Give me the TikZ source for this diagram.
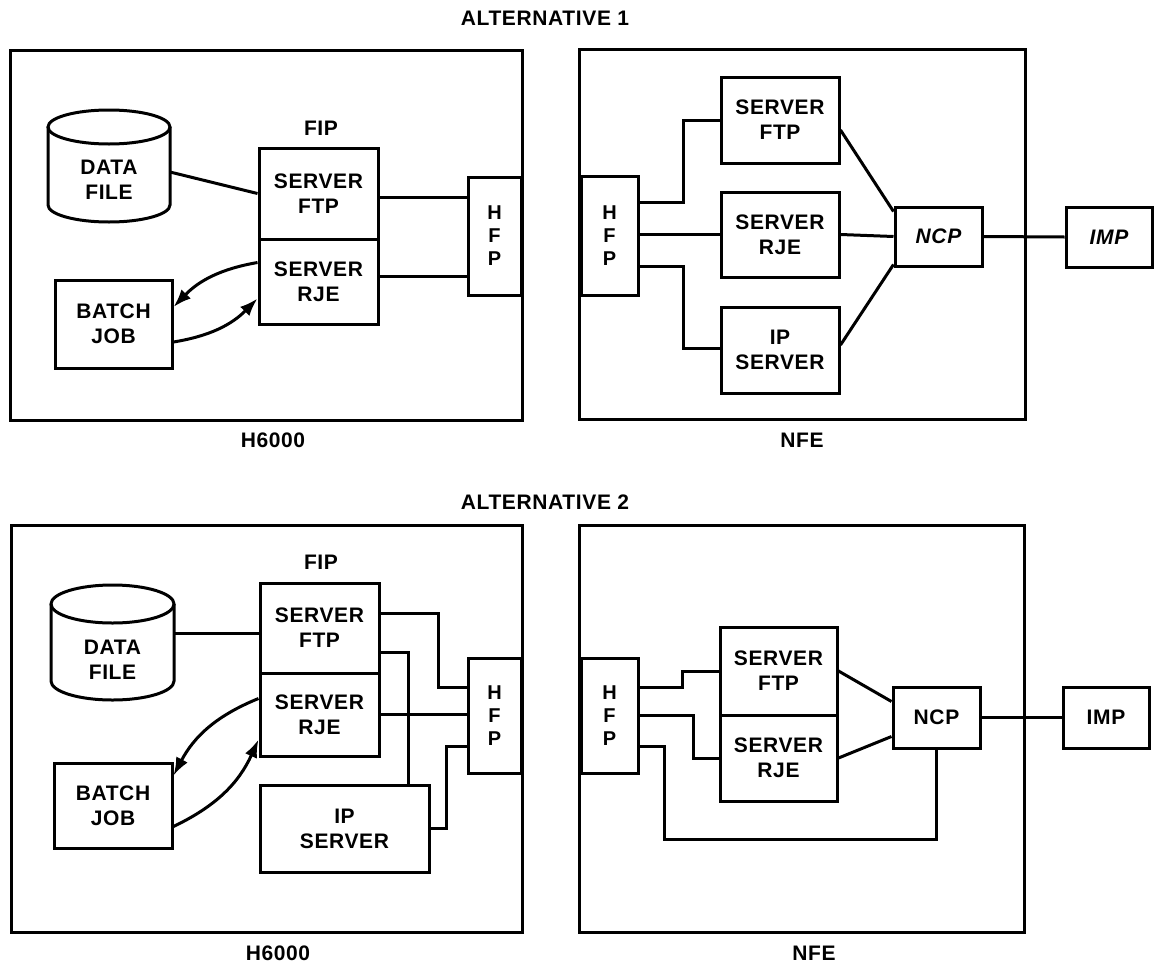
\documentclass[tikz,border=0pt]{standalone}
\usepackage{fontspec}
\setmainfont{Liberation Sans}[LetterSpace=3]
\usepackage{tikz}
\usetikzlibrary{arrows.meta}

\tikzset{
  box/.style={draw, line width=3pt, align=center, inner sep=0pt},
  lbl/.style={align=center, inner sep=0pt},
  hfp/.style={box, font=\fontsize{20}{23}\selectfont\bfseries},
  wire/.style={line width=3pt},
  arr/.style={line width=3pt, -{Latex[length=18pt,width=13pt]}},
}

\begin{document}
\begin{tikzpicture}[x=1pt, y=-1pt, font=\fontsize{21}{25}\selectfont\bfseries]
  \useasboundingbox (0,0) rectangle (1176,964);

  % alternative 1
  \node[lbl] (titleA) at (545,18) {ALTERNATIVE 1};
  \node[box, minimum width=512pt, minimum height=370pt] (hostA) at (266,235) {};
  \node[box, minimum width=446pt, minimum height=370pt] (nfeA) at (802,234) {};
  \node[lbl] (hostlblA) at (273,440) {H6000};
  \node[lbl] (nfelblA) at (802,440) {NFE};
  \node[lbl] (fipA) at (321,128) {FIP};

  \node[inner sep=0pt, outer sep=0pt, minimum width=122pt, minimum height=112pt] (dfileA) at (109,166) {};
  \draw[wire] ([yshift=-17pt]dfileA.north) ellipse [x radius=61pt, y radius=17pt];
  \draw[wire] ([yshift=-17pt]dfileA.north west) -- ([yshift=17pt]dfileA.south west)
    arc[start angle=180, end angle=360, x radius=61pt, y radius=17pt] -- ([yshift=-17pt]dfileA.north east);
  \node[lbl] (dtextA) at (109,180) {DATA\\FILE};

  \node[box, minimum width=119pt, minimum height=91pt] (ftpA) at (318.5,193.5) {SERVER\\FTP};
  \node[box, minimum width=119pt, minimum height=85pt] (rjeA) at (318.5,281.5) {SERVER\\RJE};
  \node[box, minimum width=117pt, minimum height=88pt] (batchA) at (113.5,324) {BATCH\\JOB};
  \node[hfp, minimum width=53pt, minimum height=118pt] (hfpA) at (494.5,236) {H\\F\\P};

  \node[hfp, minimum width=57pt, minimum height=119pt] (hfpB) at (609.5,235.5) {H\\F\\P};
  \node[box, minimum width=118pt, minimum height=86pt] (ftpB) at (780,120) {SERVER\\FTP};
  \node[box, minimum width=118pt, minimum height=85pt] (rjeB) at (780,234.5) {SERVER\\RJE};
  \node[box, minimum width=118pt, minimum height=86pt] (ipB) at (780,350) {IP\\SERVER};
  \node[box, minimum width=87pt, minimum height=59pt, font=\fontsize{21}{25}\selectfont\bfseries\itshape] (ncpB) at (938.5,236.5) {NCP};
  \node[box, minimum width=86pt, minimum height=60pt, font=\fontsize{21}{25}\selectfont\bfseries\itshape] (impB) at (1109,237) {IMP};

  \draw[wire] ([yshift=-6pt]dfileA.east) -- (ftpA.west);
  \draw[wire] ([yshift=-4pt]ftpA.east) -- ([yshift=-4pt]ftpA.east -| hfpA.west);
  \draw[wire] ([yshift=5pt]rjeA.east) -- ([yshift=5pt]rjeA.east -| hfpA.west);
  \draw[arr] ([yshift=19pt]rjeA.west) to[bend right=18] ([yshift=17pt]batchA.east);
  \draw[arr] ([yshift=-18pt]batchA.east) to[bend right=18] ([yshift=-17pt]rjeA.west);

  \draw[wire] ([yshift=33pt]hfpB.east) -- ++(44,0) |- (ftpB.west);
  \draw[wire] (rjeB.west -| hfpB.east) -- (rjeB.west);
  \draw[wire] ([yshift=-31pt]hfpB.east) -- ++(44,0) |- ([yshift=2pt]ipB.west);
  \draw[wire] ([yshift=-10pt]ftpB.east) -- ([yshift=-6pt]ncpB.north west);
  \draw[wire] (rjeB.east) -- (ncpB.west);
  \draw[wire] ([yshift=5pt]ipB.east) -- ([yshift=3pt]ncpB.south west);
  \draw[wire] (ncpB.east) -- (impB.west);

  % alternative 2
  \node[lbl] (titleC) at (545,502) {ALTERNATIVE 2};
  \node[box, minimum width=511pt, minimum height=407pt] (hostC) at (266.5,728.5) {};
  \node[box, minimum width=445pt, minimum height=407pt] (nfeD) at (801.5,728.5) {};
  \node[lbl] (hostlblC) at (278,953) {H6000};
  \node[lbl] (nfelblD) at (814,953) {NFE};
  \node[lbl] (fipC) at (321,562) {FIP};

  \node[inner sep=0pt, outer sep=0pt, minimum width=123pt, minimum height=115pt] (dfileC) at (112.5,642.5) {};
  \draw[wire] ([yshift=-19pt]dfileC.north) ellipse [x radius=61.5pt, y radius=19pt];
  \draw[wire] ([yshift=-19pt]dfileC.north west) -- ([yshift=19pt]dfileC.south west)
    arc[start angle=180, end angle=360, x radius=61.5pt, y radius=19pt] -- ([yshift=-19pt]dfileC.north east);
  \node[lbl] (dtextC) at (112.5,659.5) {DATA\\FILE};

  \node[box, minimum width=119pt, minimum height=90pt] (ftpC) at (319.5,628) {SERVER\\FTP};
  \node[box, minimum width=119pt, minimum height=83pt] (rjeC) at (319.5,714.5) {SERVER\\RJE};
  \node[box, minimum width=118pt, minimum height=85pt] (batchC) at (113,805.5) {BATCH\\JOB};
  \node[box, minimum width=169pt, minimum height=87pt] (ipC) at (344.5,828.5) {IP\\SERVER};
  \node[hfp, minimum width=53pt, minimum height=115pt] (hfpC) at (494.5,715.5) {H\\F\\P};

  \node[hfp, minimum width=57pt, minimum height=115pt] (hfpD) at (609.5,715.5) {H\\F\\P};
  \node[box, minimum width=117pt, minimum height=88pt] (ftpD) at (778.5,671) {SERVER\\FTP};
  \node[box, minimum width=117pt, minimum height=86pt] (rjeD) at (778.5,758) {SERVER\\RJE};
  \node[box, minimum width=87pt, minimum height=61pt] (ncpD) at (936.5,717.5) {NCP};
  \node[box, minimum width=86pt, minimum height=61pt] (impD) at (1106,717.5) {IMP};

  \draw[wire] ([yshift=-5pt]ftpC.west) -- ([yshift=-5pt]ftpC.west -| dfileC.east);
  \draw[wire] ([yshift=15pt]ftpC.east) -- ++(58,0) |- ([yshift=28pt]hfpC.west);
  \draw[wire] ([yshift=-24pt]ftpC.east) -| ([xshift=64pt]ipC.north);
  \draw[wire] (rjeC.east) -- (rjeC.east -| hfpC.west);
  \draw[wire] (ipC.east) -- ++(16,0) |- ([yshift=-31pt]hfpC.west);
  \draw[arr] ([yshift=16pt]rjeC.west) to[bend right=20] ([yshift=30pt]batchC.east);
  \draw[arr] ([yshift=-21pt]batchC.east) to[bend right=20] ([yshift=-25pt]rjeC.west);

  \draw[wire] ([yshift=28pt]hfpD.east) -- ++(43,0) |- (ftpD.west);
  \draw[wire] (hfpD.east) -- ++(54,0) |- (rjeD.west);
  \draw[wire] ([yshift=-31pt]hfpD.east) -- ++(25,0) -- ++(0,93) -| (ncpD.south);
  \draw[wire] (ftpD.east) -- ([yshift=16pt]ncpD.west);
  \draw[wire] (rjeD.east) -- ([yshift=-19pt]ncpD.west);
  \draw[wire] (ncpD.east) -- (impD.west);
\end{tikzpicture}
\end{document}
